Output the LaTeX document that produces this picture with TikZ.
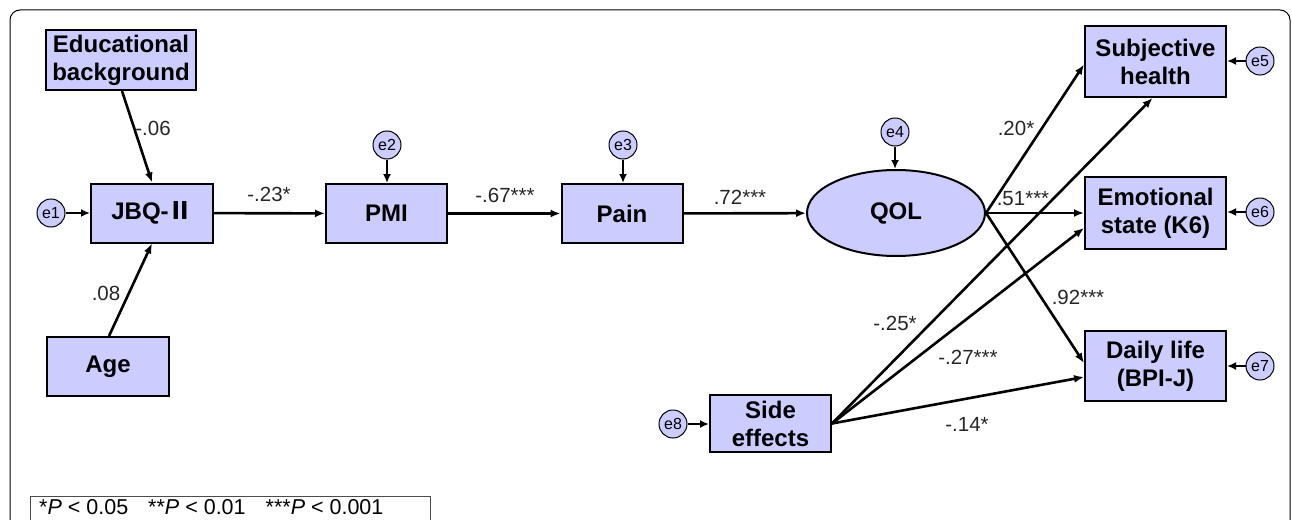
\documentclass[tikz,border=0pt]{standalone}
\usepackage{fontspec}
\setmainfont{Liberation Sans}
\newfontfamily\cjkfont{Noto Sans CJK JP}
\usetikzlibrary{shapes.geometric,arrows.meta,calc}
\definecolor{boxfill}{HTML}{CCCCFF}
\begin{document}
\begin{tikzpicture}[x=1pt,y=-1pt,
  box/.style={draw=black, line width=2pt, fill=boxfill, inner sep=0pt, align=center,
    font=\fontsize{24}{28}\selectfont\bfseries},
  errc/.style={draw=black, line width=1pt, fill=boxfill, circle, inner sep=0pt,
    minimum size=28pt, font=\fontsize{16}{16}\selectfont},
  path/.style={line width=2.6pt, -{Latex[length=10pt,width=8pt]}},
  epath/.style={line width=2.6pt, -{Latex[length=9pt,width=8pt]}},
  coef/.style={font=\fontsize{20.5}{20}\selectfont, text=black!85, inner sep=0pt}]
\useasboundingbox (0,0) rectangle (1292,519);
\clip (0,0) rectangle (1292,519);
% outer frame
\draw[line width=1pt, rounded corners=10pt] (10,560) -- (10,10) -- (1290,10) -- (1290,560);
% legend
\draw[line width=0.8pt, draw=black!70] (30,560) -- (30,496) -- (430,496) -- (430,560);
\node[anchor=west, font=\fontsize{21.5}{22}\selectfont, inner sep=0pt] (leg) at (39,507)
  {*\textit{P} < 0.05\hspace{20pt}**\textit{P} < 0.01\hspace{20pt}***\textit{P} < 0.001};
% boxes
\node[box, minimum width=150pt, minimum height=60pt] (edu) at (121,60) {Educational\\background};
\node[box, minimum width=122pt, minimum height=59pt] (jbq) at (152,213) {JBQ-{\cjkfont\bfseries Ⅱ}};
\node[box, minimum width=122pt, minimum height=59pt] (age) at (108,366.5) {Age};
\node[box, minimum width=121pt, minimum height=59pt] (pmi) at (386.5,213.5) {PMI};
\node[box, minimum width=121pt, minimum height=59pt] (pain) at (622,213.5) {Pain};
\node[box, ellipse, minimum width=178pt, minimum height=86pt] (qol) at (896,213) {QOL};
\node[box, minimum width=141pt, minimum height=71pt] (sh) at (1155.5,61.5) {Subjective\\health};
\node[box, minimum width=141pt, minimum height=72pt] (es) at (1155.5,213) {Emotional\\state (K6)};
\node[box, minimum width=141pt, minimum height=70pt] (dl) at (1155.5,366) {Daily life\\(BPI-J)};
\node[box, minimum width=121pt, minimum height=57pt] (se) at (770.5,423.5) {Side\\effects};
% error terms
\node[errc] (e1) at (51,213) {e1};
\node[errc] (e2) at (387,145) {e2};
\node[errc] (e3) at (623,145) {e3};
\node[errc] (e4) at (895,132) {e4};
\node[errc] (e5) at (1260,61) {e5};
\node[errc] (e6) at (1260,212) {e6};
\node[errc] (e7) at (1260,366) {e7};
\node[errc] (e8) at (673,424) {e8};
% error arrows
\draw[epath] (e1) -- (jbq.west |- e1);
\draw[epath] (e2) -- (e2 |- pmi.north);
\draw[epath] (e3) -- (e3 |- pain.north);
\draw[epath] (e4) -- (e4 |- qol.north);
\draw[epath] (e5) -- (sh.east |- e5);
\draw[epath] (e6) -- (es.east |- e6);
\draw[epath] (e7) -- (dl.east |- e7);
\draw[epath] (e8) -- (se.west |- e8);
% structural paths
\draw[path] ($(edu.south)+(1,0)$) -- (jbq.north);
\draw[path] ($(age.north)+(1,0)$) -- (jbq.south);
\draw[path] (jbq) -- (pmi);
\draw[path] (pmi) -- (pain);
\draw[path] (pain) -- (qol);
\draw[path] (qol.east) -- ($(sh.west)+(0,3)$);
\draw[path] (qol.east) -- (es.west);
\draw[path] (qol.east) -- ($(dl.west)+(0,-3)$);
\draw[path] (se.east) -- ($(sh.south)+(-3,0)$);
\draw[path] (se.east) -- ($(es.west)+(0,15)$);
\draw[path] (se.east) -- ($(dl.west)+(0,11)$);
% coefficients
\node[coef] (c1) at (153,128) {-.06};
\node[coef] (c2) at (106,293) {.08};
\node[coef] (c3) at (269,194) {-.23*};
\node[coef] (c4) at (505,195) {-.67***};
\node[coef] (c5) at (740,197) {.72***};
\node[coef] (c6) at (1016,128) {.20*};
\node[coef] (c7) at (1023,199) {.51***};
\node[coef] (c8) at (1078,297) {.92***};
\node[coef] (c9) at (895,323) {-.25*};
\node[coef] (c10) at (968,357) {-.27***};
\node[coef] (c11) at (967,424) {-.14*};
\end{tikzpicture}
\end{document}
